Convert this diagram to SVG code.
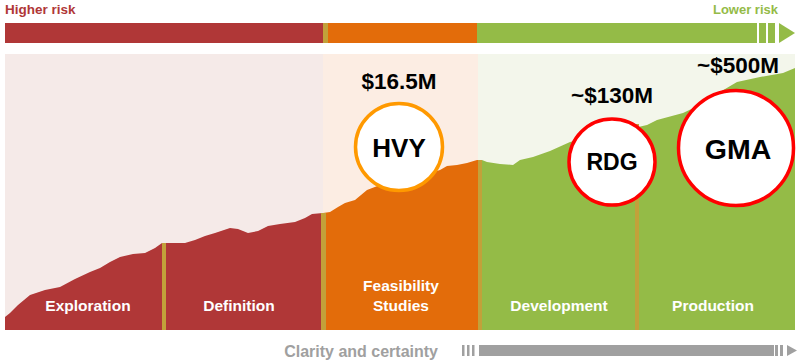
<svg xmlns="http://www.w3.org/2000/svg" width="800" height="361" viewBox="0 0 800 361">
<style>
text{font-family:"Liberation Sans",Arial,sans-serif;font-weight:bold}
.ph{fill:#fff;font-size:15.5px;text-anchor:middle}
.val{fill:#000;font-size:22.5px;text-anchor:middle}
.nm{fill:#000;text-anchor:middle}
.red{fill:#b03737}.org{fill:#e36c0a}.grn{fill:#94bb47}.gold{fill:#c2a13a}
</style>
<defs>
<clipPath id="mtn">
<path d="M5,330 L5,317 L10,313 L18,305 L30,295 L45,290 L60,287 L75,279 L90,272 L100,268 L110,262 L120,257 L133,254 L145,253 L155,248 L162,243 L185,243 L195,240 L205,236 L215,233 L230,228 L238,229 L248,233 L258,231 L268,226 L280,224 L295,222 L305,218 L312,214 L323,213 L330,212 L338,207 L345,203 L355,200 L367,190 L380,185 L400,180 L420,176 L440,170 L447,166 L457,165 L467,163 L477,160 L482,160 L487,162 L500,164 L513,165 L520,160 L533,157 L550,151 L570,142 L600,135 L625,130 L647,125 L657,120 L683,113 L700,105 L720,92 L737,82 L760,77 L783,73 L795,68 L795,330 Z"/>
</clipPath>
</defs>

<g id="risk-bar">
<text x="5" y="14" font-size="13.5" fill="#b03737">Higher risk</text>
<text x="778" y="14" font-size="13" fill="#94bb47" text-anchor="end">Lower risk</text>
<rect x="5" y="23" width="318" height="20" class="red"/>
<rect x="323" y="23" width="5" height="20" class="gold"/>
<rect x="328" y="23" width="149" height="20" class="org"/>
<rect x="477" y="23" width="280" height="20" class="grn"/>
<rect x="759" y="23" width="7" height="20" class="grn"/>
<rect x="768" y="23" width="7" height="20" class="grn"/>
<polygon points="779,23 795,33 779,43" class="grn"/>
</g>

<g id="background">
<rect x="5" y="54" width="318" height="276" fill="#f5eae8"/>
<rect x="323" y="54" width="155" height="276" fill="#fcede3"/>
<rect x="478" y="54" width="317" height="276" fill="#f3f6eb"/>
</g>

<g id="mountain" clip-path="url(#mtn)">
<rect x="5" y="50" width="318" height="280" class="red"/>
<rect x="323" y="50" width="155" height="280" class="org"/>
<rect x="478" y="50" width="317" height="280" class="grn"/>
</g>

<g id="dividers">
<rect x="162" y="243" width="4" height="87" class="gold"/>
<rect x="321" y="213" width="5" height="117" class="gold"/>
<rect x="478" y="160" width="4" height="170" class="gold"/>
<rect x="635" y="124" width="4" height="206" class="gold"/>
</g>

<g id="exploration"><text class="ph" x="88" y="311">Exploration</text></g>
<g id="definition"><text class="ph" x="239" y="311">Definition</text></g>
<g id="feasibility"><text class="ph" x="401" y="291">Feasibility</text><text class="ph" x="401" y="311">Studies</text></g>
<g id="development"><text class="ph" x="559" y="311">Development</text></g>
<g id="production"><text class="ph" x="713" y="311">Production</text></g>

<g id="hvy">
<text class="val" x="399" y="89">$16.5M</text>
<circle cx="399" cy="147" r="43.5" fill="#fff" stroke="#ff9900" stroke-width="3.5"/>
<text class="nm" x="399" y="157" font-size="26">HVY</text>
</g>
<g id="rdg">
<text class="val" x="612" y="103">~$130M</text>
<circle cx="612" cy="162" r="43" fill="#fff" stroke="#ff0000" stroke-width="3.5"/>
<text class="nm" x="612" y="170" font-size="23">RDG</text>
</g>
<g id="gma">
<text class="val" x="738" y="73">~$500M</text>
<circle cx="736" cy="148" r="57.5" fill="#fff" stroke="#ff0000" stroke-width="3.5"/>
<text class="nm" x="738" y="159" font-size="28.5">GMA</text>
</g>

<g id="clarity">
<text x="438" y="357" font-size="16" fill="#a0a0a0" text-anchor="end">Clarity and certainty</text>
<rect x="462" y="345" width="2.5" height="11" fill="#a0a0a0"/>
<rect x="467" y="345" width="2.5" height="11" fill="#a0a0a0"/>
<rect x="472" y="345" width="2.5" height="11" fill="#a0a0a0"/>
<rect x="479" y="345" width="295" height="11" fill="#a0a0a0"/>
<rect x="775" y="345" width="3" height="11" fill="#a0a0a0"/>
<rect x="780" y="345" width="3" height="11" fill="#a0a0a0"/>
<polygon points="787,345 797,350.5 787,356" fill="#a0a0a0"/>
</g>
</svg>
